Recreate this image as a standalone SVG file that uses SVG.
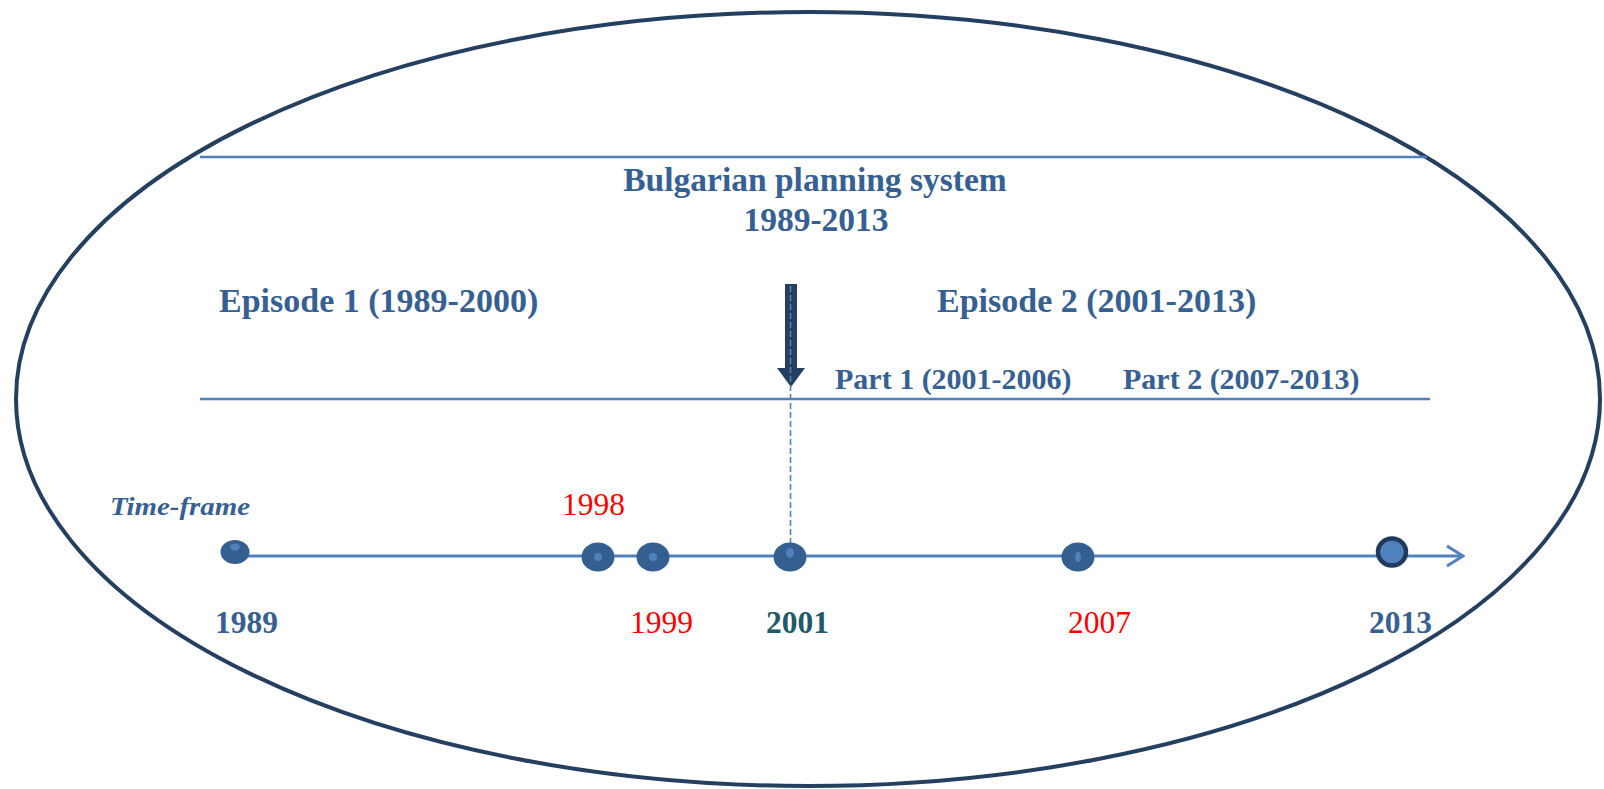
<svg xmlns="http://www.w3.org/2000/svg" width="1604" height="789" viewBox="0 0 1604 789">
  <style>
    .hdr { font-family: "Liberation Serif", "Times New Roman", serif; font-weight: bold; fill: #376092; }
    .yr { font-family: "Liberation Serif", "Times New Roman", serif; font-size: 31.5px; }
    .bold { font-weight: bold; }
    .red { fill: #FF0000; }
    .blue { fill: #376092; }
    .teal { fill: #215968; }
    .rule { stroke: #4F81BD; stroke-width: 2.5; fill: none; }
    .dot { fill: #365F91; }
    .core { fill: #4F81BD; }
  </style>
  <defs>
    <marker id="open-arrow" viewBox="0 0 20 24" refX="18" refY="12" markerWidth="20" markerHeight="24" markerUnits="userSpaceOnUse" orient="auto">
      <path d="M2,2 L18,12 L2,22" fill="none" stroke="#4F81BD" stroke-width="3"/>
    </marker>
  </defs>

  <rect width="1604" height="789" fill="#FFFFFF"/>

  <!-- outer frame -->
  <ellipse cx="808" cy="399" rx="792" ry="387" fill="none" stroke="#243F60" stroke-width="4"/>

  <!-- horizontal rules bounding the header band -->
  <line class="rule" x1="200" y1="157" x2="1427" y2="157"/>
  <line class="rule" x1="200" y1="399" x2="1430" y2="399"/>

  <!-- header texts -->
  <g id="title">
    <text class="hdr" x="815" y="191" font-size="33.5" text-anchor="middle">Bulgarian planning system</text>
    <text class="hdr" x="816" y="231" font-size="33.5" text-anchor="middle">1989-2013</text>
  </g>
  <g id="episode1">
    <text class="hdr" x="219" y="312" font-size="34">Episode 1 (1989-2000)</text>
  </g>
  <g id="episode2">
    <text class="hdr" x="937" y="312" font-size="34">Episode 2 (2001-2013)</text>
  </g>
  <g id="part1">
    <text class="hdr" x="835" y="389" font-size="30">Part 1 (2001-2006)</text>
  </g>
  <g id="part2">
    <text class="hdr" x="1123" y="389" font-size="30">Part 2 (2007-2013)</text>
  </g>

  <!-- connectors: split arrow, dashed drop line, timeline axis -->
  <g id="connectors">
    <polygon points="785,284 797,284 797,368 805,368 791,387 777,368 785,368" fill="#243F60"/>
    <line x1="790.5" y1="286" x2="790.5" y2="548" stroke="#4F81BD" stroke-width="1.6" stroke-dasharray="6,3"/>
    <line x1="235" y1="556" x2="1463" y2="556" stroke="#4F81BD" stroke-width="3" marker-end="url(#open-arrow)"/>
  </g>

  <g id="timeframe-label">
    <text x="110" y="515" font-family="'Liberation Serif', 'Times New Roman', serif" font-weight="bold" font-style="italic" font-size="25" fill="#376092" textLength="140" lengthAdjust="spacingAndGlyphs">Time-frame</text>
  </g>

  <!-- timeline milestones -->
  <g id="y1989">
    <ellipse class="dot" cx="235" cy="552" rx="14.5" ry="12"/>
    <ellipse class="core" cx="235" cy="547" rx="5" ry="3.5"/>
    <text class="yr bold blue" x="215" y="633">1989</text>
  </g>
  <g id="y1998">
    <ellipse class="dot" cx="598" cy="557" rx="16.5" ry="14.5"/>
    <ellipse class="core" cx="598" cy="557" rx="4" ry="4"/>
    <text class="yr red" x="562" y="515">1998</text>
  </g>
  <g id="y1999">
    <ellipse class="dot" cx="653" cy="557" rx="16.5" ry="14.5"/>
    <ellipse class="core" cx="653" cy="557" rx="4" ry="4"/>
    <text class="yr red" x="630" y="633">1999</text>
  </g>
  <g id="y2001">
    <ellipse class="dot" cx="790" cy="557" rx="16.5" ry="14.5"/>
    <ellipse class="core" cx="790" cy="553" rx="4" ry="5"/>
    <text class="yr bold teal" x="766" y="633">2001</text>
  </g>
  <g id="y2007">
    <ellipse class="dot" cx="1078" cy="557" rx="16.5" ry="14.5"/>
    <ellipse class="core" cx="1078" cy="557" rx="3" ry="5"/>
    <text class="yr red" x="1068" y="633">2007</text>
  </g>
  <g id="y2013">
    <ellipse cx="1392" cy="552" rx="14" ry="13.5" fill="#4F81BD" stroke="#1F3B5F" stroke-width="4.5"/>
    <text class="yr bold blue" x="1369" y="633">2013</text>
  </g>
</svg>
